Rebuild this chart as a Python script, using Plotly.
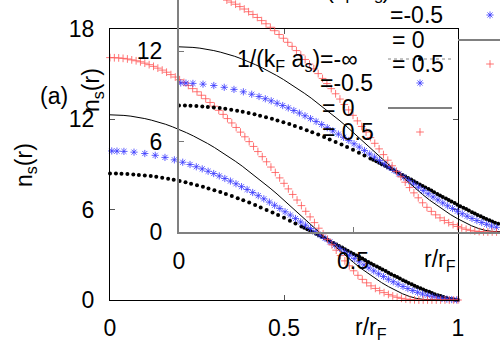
import plotly.graph_objects as go

# 1/(kF as) = -inf  (black dots)
r_dots = [0, 0.017, 0.033, 0.05, 0.067, 0.083, 0.1, 0.117, 0.133, 0.15,
          0.167, 0.183, 0.2, 0.217, 0.233, 0.25, 0.267, 0.283, 0.3, 0.317,
          0.333, 0.35, 0.367, 0.383, 0.4, 0.417, 0.433, 0.45, 0.467, 0.483,
          0.5, 0.517, 0.533, 0.55, 0.567, 0.583, 0.6, 0.617, 0.633, 0.65,
          0.667, 0.683, 0.7, 0.717, 0.733, 0.75, 0.767, 0.783, 0.8, 0.817,
          0.833, 0.85, 0.867, 0.883, 0.9, 0.917, 0.933, 0.95, 0.967, 0.983, 1.0]
n_dots = [8.40, 8.40, 8.39, 8.37, 8.34, 8.31, 8.27, 8.23, 8.18, 8.12,
          8.05, 7.98, 7.90, 7.82, 7.72, 7.62, 7.52, 7.41, 7.29, 7.17,
          7.04, 6.90, 6.76, 6.62, 6.47, 6.31, 6.15, 5.98, 5.81, 5.64,
          5.46, 5.27, 5.08, 4.89, 4.70, 4.50, 4.30, 4.10, 3.89, 3.69,
          3.48, 3.27, 3.06, 2.85, 2.64, 2.43, 2.22, 2.02, 1.81, 1.61,
          1.42, 1.23, 1.04, 0.87, 0.70, 0.54, 0.39, 0.26, 0.14, 0.05, 0.0]
# the outer part of that curve is sampled more densely
r_dots_tail = [0.558, 0.575, 0.592, 0.608, 0.625, 0.642, 0.658, 0.675, 0.692, 0.708,
               0.725, 0.742, 0.758, 0.775, 0.792, 0.808, 0.825, 0.842, 0.858, 0.875,
               0.892, 0.908, 0.925, 0.942, 0.958, 0.975, 0.992]
n_dots_tail = [4.80, 4.60, 4.40, 4.20, 4.00, 3.79, 3.58, 3.37, 3.16, 2.95,
               2.75, 2.53, 2.33, 2.12, 1.92, 1.71, 1.52, 1.32, 1.13, 0.95,
               0.78, 0.61, 0.46, 0.32, 0.20, 0.09, 0.02]

# 1/(kF as) = -0.5  (blue stars)
r_stars = [0.005, 0.02, 0.04, 0.069, 0.10, 0.13, 0.158, 0.185, 0.209, 0.23,
           0.248, 0.265, 0.282, 0.298, 0.314, 0.33, 0.346, 0.362, 0.378, 0.394,
           0.41, 0.426, 0.442, 0.458, 0.473, 0.488, 0.503, 0.518, 0.533, 0.548,
           0.562, 0.576, 0.59, 0.604, 0.618, 0.632, 0.646, 0.66, 0.674, 0.688,
           0.702, 0.716, 0.73, 0.744, 0.758, 0.772, 0.786, 0.80, 0.814, 0.828,
           0.842, 0.856, 0.87, 0.884, 0.898, 0.912, 0.926, 0.94, 0.954, 0.968,
           0.982, 0.996]
n_stars = [9.90, 9.89, 9.87, 9.82, 9.73, 9.61, 9.47, 9.31, 9.15, 9.00,
           8.85, 8.71, 8.55, 8.40, 8.24, 8.07, 7.90, 7.72, 7.53, 7.34,
           7.14, 6.93, 6.72, 6.50, 6.29, 6.08, 5.86, 5.64, 5.41, 5.18,
           4.97, 4.75, 4.53, 4.31, 4.09, 3.86, 3.64, 3.41, 3.19, 2.97,
           2.75, 2.54, 2.33, 2.13, 1.93, 1.74, 1.56, 1.38, 1.21, 1.05,
           0.90, 0.76, 0.63, 0.51, 0.40, 0.31, 0.23, 0.16, 0.10, 0.06,
           0.03, 0.01]

# 1/(kF as) = 0  (solid line)
r_line = [0, 0.02, 0.04, 0.06, 0.08, 0.1, 0.12, 0.14, 0.16, 0.18,
          0.2, 0.22, 0.24, 0.26, 0.28, 0.3, 0.32, 0.34, 0.36, 0.38,
          0.4, 0.42, 0.44, 0.46, 0.48, 0.5, 0.52, 0.54, 0.56, 0.58,
          0.6, 0.62, 0.64, 0.66, 0.68, 0.7, 0.72, 0.74, 0.76, 0.78,
          0.8, 0.82, 0.84, 0.86, 0.88, 0.9, 0.92, 0.94, 0.96, 0.98, 1.0]
n_line = [12.30, 12.29, 12.26, 12.21, 12.14, 12.05, 11.94, 11.82, 11.67, 11.50,
          11.32, 11.11, 10.89, 10.66, 10.40, 10.13, 9.84, 9.54, 9.22, 8.89,
          8.54, 8.18, 7.81, 7.43, 7.04, 6.63, 6.23, 5.81, 5.39, 4.96,
          4.53, 4.11, 3.69, 3.28, 2.88, 2.49, 2.12, 1.78, 1.46, 1.16,
          0.89, 0.64, 0.42, 0.24, 0.11, 0.04, 0.01, 0, 0, 0, 0]

# 1/(kF as) = 0.5  (red crosses)
r_plus = [0, 0.0125, 0.025, 0.0375, 0.05, 0.0625, 0.075, 0.0875, 0.1, 0.1125,
          0.125, 0.1375, 0.15, 0.1625, 0.175, 0.1875, 0.2, 0.2125, 0.225, 0.2375,
          0.25, 0.2625, 0.275, 0.2875, 0.3, 0.3125, 0.325, 0.3375, 0.35, 0.3625,
          0.375, 0.3875, 0.4, 0.4125, 0.425, 0.4375, 0.45, 0.4625, 0.475, 0.4875,
          0.5, 0.5125, 0.525, 0.5375, 0.55, 0.5625, 0.575, 0.5875, 0.6, 0.6125,
          0.625, 0.6375, 0.65, 0.6625, 0.675, 0.6875, 0.7, 0.7125, 0.725, 0.7375,
          0.75, 0.7625, 0.775, 0.7875, 0.8, 0.8125, 0.825, 0.8375, 0.85, 0.8625,
          0.875, 0.8875, 0.9, 0.9125, 0.925, 0.9375, 0.95, 0.9625, 0.975, 0.9875, 1.0]
n_plus = [16.10, 16.09, 16.08, 16.05, 16.01, 15.95, 15.89, 15.82, 15.73, 15.63,
          15.52, 15.40, 15.27, 15.13, 14.97, 14.81, 14.63, 14.45, 14.25, 14.04,
          13.83, 13.60, 13.37, 13.12, 12.87, 12.60, 12.33, 12.05, 11.76, 11.46,
          11.15, 10.84, 10.52, 10.20, 9.86, 9.52, 9.18, 8.83, 8.47, 8.11,
          7.75, 7.38, 7.01, 6.64, 6.27, 5.89, 5.52, 5.14, 4.77, 4.40,
          4.03, 3.67, 3.31, 2.95, 2.60, 2.27, 1.94, 1.64, 1.37, 1.14,
          0.94, 0.77, 0.62, 0.49, 0.37, 0.27, 0.18, 0.11, 0.06, 0.03,
          0.01, 0, 0, 0, 0, 0, 0, 0, 0, 0, 0]

legend_labels = ["1/(k<sub>F</sub> a<sub>s</sub>)=-\u221e", "=-0.5", "= 0", "= 0.5"]
x_ticks = [0, 0.5, 1]
y_ticks = [0, 6, 12, 18]

W, H = 500, 350
FONT = "Liberation Sans, Arial, sans-serif"
BLUE = "#3838ff"
RED = "#ff5050"


def px(x):
    return x / W


def py(y):
    return 1 - y / H


dot_marker = dict(symbol="circle", size=4, color="black")
star_marker = dict(symbol="asterisk-open", size=6, color=BLUE, line=dict(color=BLUE, width=0.8))
plus_marker = dict(symbol="cross-thin-open", size=5.5, color=RED, line=dict(color=RED, width=0.8))


def add_series(fig, xa, ya):
    fig.add_trace(go.Scatter(x=r_dots + r_dots_tail, y=n_dots + n_dots_tail, mode="markers",
                             xaxis=xa, yaxis=ya, marker=dot_marker, cliponaxis=False))
    fig.add_trace(go.Scatter(x=r_stars, y=n_stars, mode="markers", xaxis=xa, yaxis=ya,
                             marker=star_marker, cliponaxis=False))
    fig.add_trace(go.Scatter(x=r_line, y=n_line, mode="lines", xaxis=xa, yaxis=ya,
                             line=dict(color="black", width=1)))
    fig.add_trace(go.Scatter(x=r_plus, y=n_plus, mode="markers", xaxis=xa, yaxis=ya,
                             marker=plus_marker, cliponaxis=False))


fig = go.Figure()
add_series(fig, "x", "y")    # main panel
add_series(fig, "x2", "y2")  # shifted copy (inset)

# legend samples for both copies, drawn on a pixel overlay axis
for dx, dy in [(0, 0), (70, -68)]:
    fig.add_trace(go.Scatter(x=[388 + dx, 452 + dx], y=[59 + dy, 59 + dy], mode="lines",
                             xaxis="x3", yaxis="y3",
                             line=dict(color="#888888", width=1, dash="dot")))
    fig.add_trace(go.Scatter(x=[420 + dx], y=[59 + dy], mode="markers", xaxis="x3", yaxis="y3",
                             marker=dot_marker))
    fig.add_trace(go.Scatter(x=[420 + dx], y=[83 + dy], mode="markers", xaxis="x3", yaxis="y3",
                             marker=star_marker))
    fig.add_trace(go.Scatter(x=[388 + dx, 452 + dx], y=[108 + dy, 108 + dy], mode="lines",
                             xaxis="x3", yaxis="y3",
                             line=dict(color="#808080", width=2)))
    fig.add_trace(go.Scatter(x=[420 + dx], y=[132 + dy], mode="markers", xaxis="x3", yaxis="y3",
                             marker=plus_marker))

annotations = []
for dx, dy in [(0, 0), (70, -68)]:
    annotations.append(dict(text=legend_labels[0], x=px(360 + dx), y=py(60 + dy),
                            xanchor="right", yanchor="middle"))
    annotations.append(dict(text=legend_labels[1], x=px(318 + dx), y=py(83 + dy),
                            xanchor="left", yanchor="middle"))
    annotations.append(dict(text=legend_labels[2], x=px(320 + dx), y=py(108 + dy),
                            xanchor="left", yanchor="middle"))
    annotations.append(dict(text=legend_labels[3], x=px(320 + dx), y=py(132 + dy),
                            xanchor="left", yanchor="middle"))

annotations += [
    dict(text="(a)", x=px(54), y=py(96), xanchor="center", yanchor="middle"),
    dict(text="n<sub>s</sub>(r)", x=px(25), y=py(165), textangle=-90,
         xanchor="center", yanchor="middle"),
    dict(text="n<sub>s</sub>(r)", x=px(93), y=py(90), textangle=-90,
         xanchor="center", yanchor="middle"),
    dict(text="r/r<sub>F</sub>", x=px(371), y=py(328), xanchor="center", yanchor="middle"),
    dict(text="r/r<sub>F</sub>", x=px(440), y=py(260), xanchor="center", yanchor="middle"),
]
for a in annotations:
    a.update(xref="paper", yref="paper", showarrow=False,
             font=dict(family=FONT, size=23, color="black"))

tickfont = dict(family=FONT, size=23, color="black")

fig.update_layout(
    width=W, height=H,
    margin=dict(l=0, r=0, t=0, b=0, autoexpand=False),
    paper_bgcolor="white",
    plot_bgcolor="rgba(0,0,0,0)",
    showlegend=False,
    annotations=annotations,
    xaxis=dict(domain=[px(110), px(458)], range=[0, 1], anchor="y",
               tickvals=x_ticks, ticktext=["0", "0.5", "1"],
               showline=True, linecolor="black", linewidth=1, mirror="ticks",
               ticks="inside", ticklen=5, tickcolor="#555555",
               showgrid=False, zeroline=False, tickfont=tickfont, ticklabelstandoff=7),
    yaxis=dict(domain=[py(300), py(29)], range=[0, 18], anchor="x",
               tickvals=y_ticks, ticktext=["0", "6", "12", "18"],
               showline=True, linecolor="black", linewidth=1, mirror="ticks",
               ticks="inside", ticklen=5, tickcolor="#555555",
               showgrid=False, zeroline=False, tickfont=tickfont, ticklabelstandoff=10),
    xaxis2=dict(domain=[px(179), 1], range=[0, 321 / 348], anchor="y2",
                tickvals=[0, 0.5], ticktext=["0", "0.5"],
                showline=True, linecolor="#808080", linewidth=2,
                ticks="inside", ticklen=5, tickcolor="#777777",
                showgrid=False, zeroline=False, tickfont=tickfont, ticklabelstandoff=7),
    yaxis2=dict(domain=[py(232), 1], range=[0, 232 / (271 / 18)], anchor="x2",
                tickvals=[0, 6, 12], ticktext=["0", "6", "12"],
                showline=True, linecolor="#808080", linewidth=2,
                ticks="inside", ticklen=5, tickcolor="#777777",
                showgrid=False, zeroline=False, tickfont=tickfont, ticklabelstandoff=10),
    xaxis3=dict(domain=[0, 1], range=[0, W], anchor="y3", visible=False, fixedrange=True),
    yaxis3=dict(domain=[0, 1], range=[H, 0], anchor="x3", visible=False, fixedrange=True),
)

# drop the page's default body margin so the figure sits at the window's corner
fig.write_html("out.html", config={"displayModeBar": False},
               post_script="document.body.style.margin='0';")
